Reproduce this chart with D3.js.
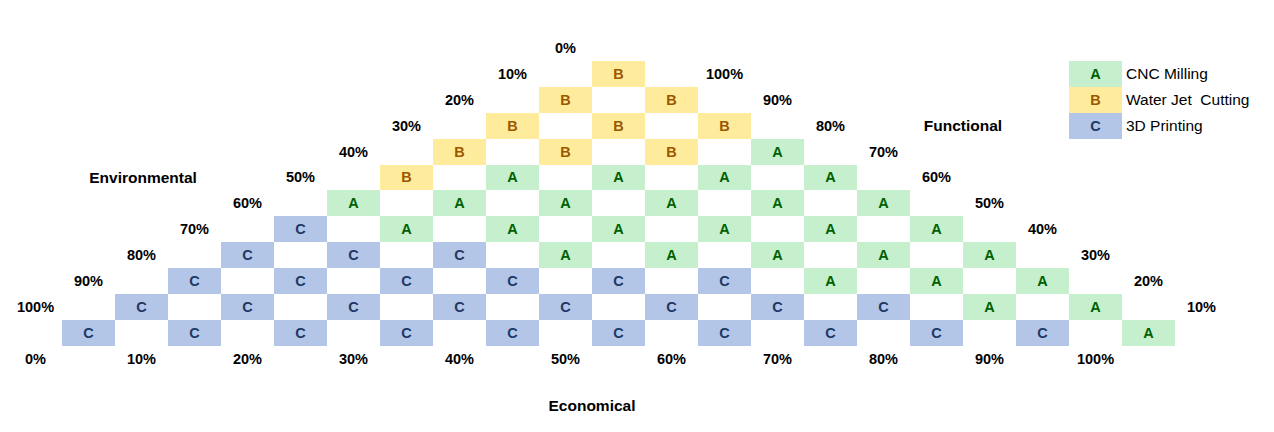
<!DOCTYPE html>
<html>
<head>
<meta charset="utf-8">
<script src="https://cdn.jsdelivr.net/npm/d3@7"></script>
<style>
  html, body { margin: 0; padding: 0; background: #fff; }
  svg { display: block; font-family: "Liberation Sans", Arial, sans-serif; }
</style>
</head>
<body>
<svg id="chart" width="1274" height="432"></svg>
<script>
// ---- data ----
// cell letters by row, bottom row (r = 0) first, left to right
const rowCells = [
  ["C","C","C","C","C","C","C","C","C","C","A"],
  ["C","C","C","C","C","C","C","C","A","A"],
  ["C","C","C","C","C","C","A","A","A"],
  ["C","C","C","A","A","A","A","A"],
  ["C","A","A","A","A","A","A"],
  ["A","A","A","A","A","A"],
  ["B","A","A","A","A"],
  ["B","B","B","A"],
  ["B","B","B"],
  ["B","B"],
  ["B"]
];
const categories = ["A", "B", "C"];
const categoryNames = ["CNC Milling", "Water Jet  Cutting", "3D Printing"];
const economicalTicks = ["0%","10%","20%","30%","40%","50%","60%","70%","80%","90%","100%"];
const environmentalTicks = ["100%","90%","80%","70%","60%","50%","40%","30%","20%","10%","0%"];
const functionalTicks = ["10%","20%","30%","40%","50%","60%","70%","80%","90%","100%"];
const axisTitles = ["Environmental", "Functional", "Economical"];

// ---- styles ----
const fillColor = d3.scaleOrdinal().domain(categories).range(["#C6EFCE", "#FFEB9C", "#B4C6E7"]);
const textColor = d3.scaleOrdinal().domain(categories).range(["#006100", "#9C5700", "#203864"]);

// ---- scales ----
const x = d3.scaleLinear().domain([0, 21]).range([62, 1175]);      // column edges
const y = d3.scaleLinear().domain([0, 11]).range([345.8, 60.9]);   // row edges (bottom -> top)
const cx = j => x(j + 0.5);
const cy = r => y(r + 0.5);

const svg = d3.select("#chart");

// flatten cells: row r, index i -> column j = r + 2i
const cells = [];
rowCells.forEach((row, r) => row.forEach((c, i) => cells.push({ r, j: r + 2 * i, c })));

const g = svg.append("g");
g.selectAll("rect.cell").data(cells).join("rect")
  .attr("class", "cell")
  .attr("x", d => x(d.j))
  .attr("y", d => y(d.r + 1))
  .attr("width", d => x(d.j + 1) - x(d.j))
  .attr("height", d => y(d.r) - y(d.r + 1))
  .attr("fill", d => fillColor(d.c))
  .attr("shape-rendering", "crispEdges");

g.selectAll("text.cell").data(cells).join("text")
  .attr("class", "cell")
  .attr("x", d => cx(d.j))
  .attr("y", d => cy(d.r))
  .attr("text-anchor", "middle")
  .attr("dominant-baseline", "central")
  .attr("font-size", 14.5)
  .attr("font-weight", "bold")
  .attr("fill", d => textColor(d.c))
  .text(d => d.c);

// tick labels
function tickLabels(data, colFn, rowFn) {
  svg.append("g").selectAll("text").data(data).join("text")
    .attr("x", (d, k) => cx(colFn(k)))
    .attr("y", (d, k) => cy(rowFn(k)))
    .attr("text-anchor", "middle")
    .attr("dominant-baseline", "central")
    .attr("font-size", 14.5)
    .attr("font-weight", "bold")
    .attr("fill", "#000")
    .text(d => d);
}
tickLabels(economicalTicks, k => 2 * k - 1, k => -1);
tickLabels(environmentalTicks, k => k - 1, k => k + 1);
tickLabels(functionalTicks, k => 21 - k, k => k + 1);

// axis titles
const titlePos = [[1.03, 6.0], [16.5, 8.0], [9.5, -2.8]];
svg.append("g").selectAll("text").data(axisTitles).join("text")
  .attr("x", (d, k) => cx(titlePos[k][0]))
  .attr("y", (d, k) => cy(titlePos[k][1]))
  .attr("text-anchor", "middle")
  .attr("dominant-baseline", "central")
  .attr("font-size", 15.5)
  .attr("font-weight", "bold")
  .attr("fill", "#000")
  .text(d => d);

// legend
const legend = svg.append("g");
const legendRow = k => 10 - k;
legend.selectAll("rect").data(categories).join("rect")
  .attr("x", x(19))
  .attr("y", (d, k) => y(legendRow(k) + 1))
  .attr("width", x(20) - x(19))
  .attr("height", (d, k) => y(legendRow(k)) - y(legendRow(k) + 1))
  .attr("fill", d => fillColor(d))
  .attr("shape-rendering", "crispEdges");
legend.selectAll("text.key").data(categories).join("text")
  .attr("class", "key")
  .attr("x", cx(19))
  .attr("y", (d, k) => cy(legendRow(k)))
  .attr("text-anchor", "middle")
  .attr("dominant-baseline", "central")
  .attr("font-size", 14.5)
  .attr("font-weight", "bold")
  .attr("fill", d => textColor(d))
  .text(d => d);
legend.selectAll("text.name").data(categoryNames).join("text")
  .attr("class", "name")
  .attr("x", x(20) + 4)
  .attr("y", (d, k) => cy(legendRow(k)))
  .attr("dominant-baseline", "central")
  .attr("font-size", 15.5)
  .attr("fill", "#000")
  .style("white-space", "pre")
  .text(d => d);
</script>
</body>
</html>
